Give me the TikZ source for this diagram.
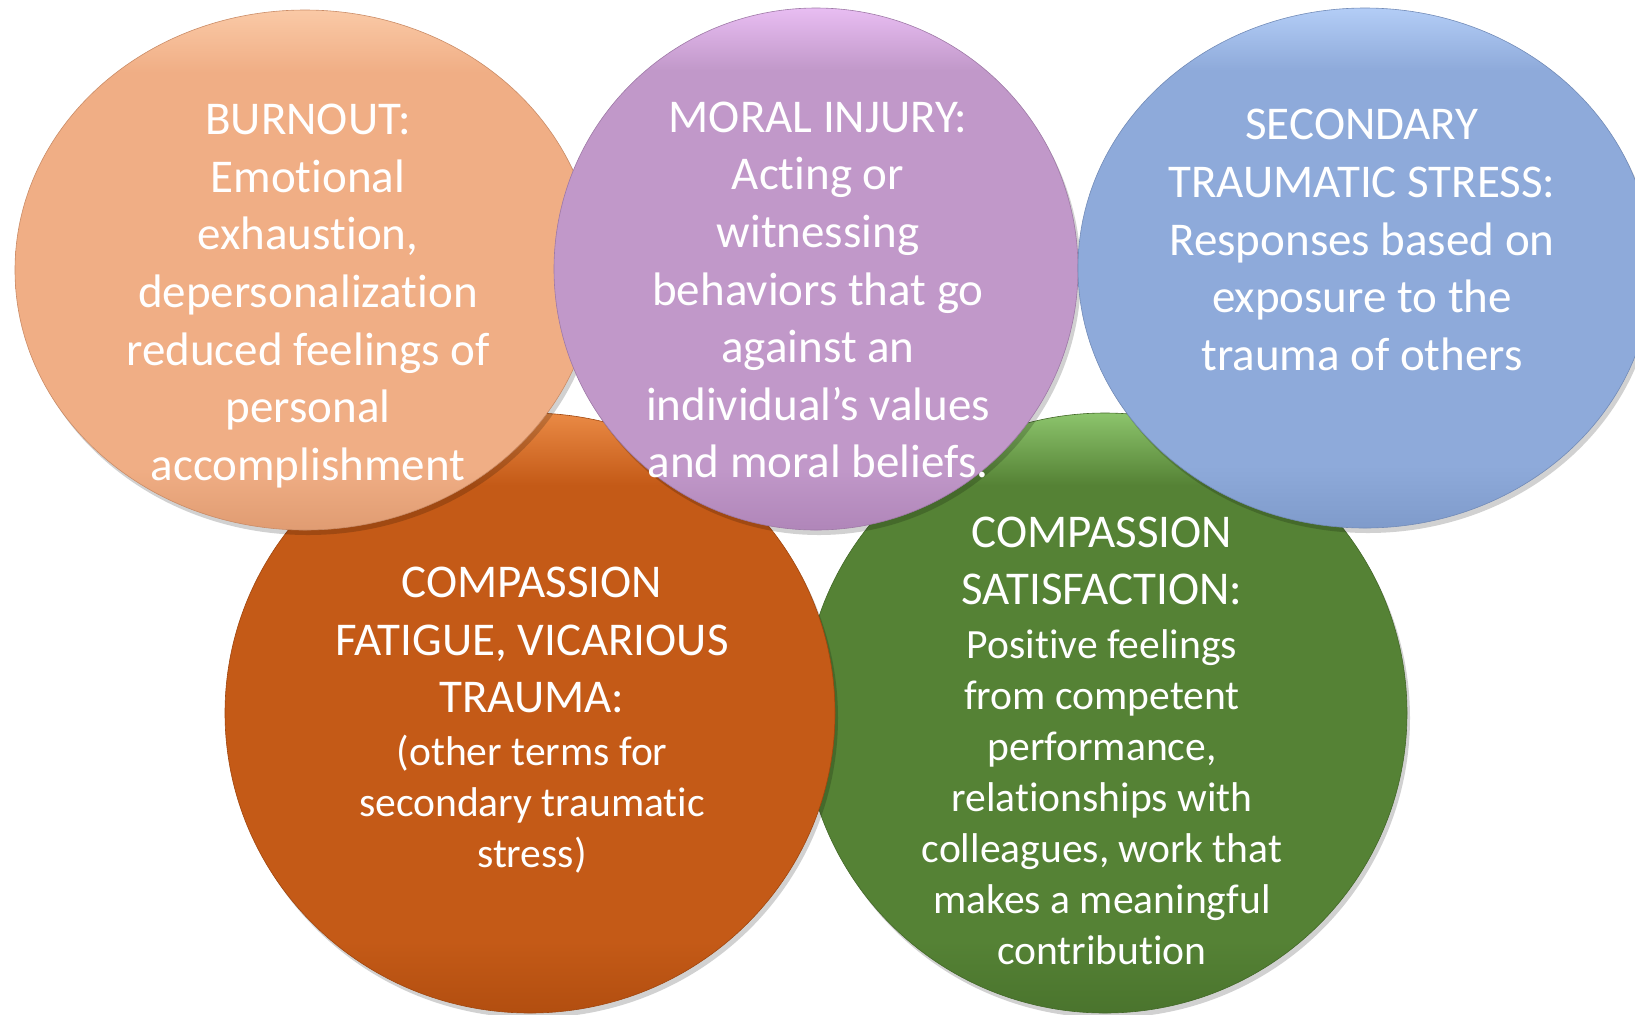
\documentclass[tikz,border=0pt]{standalone}
\usepackage{fontspec}
\setmainfont{Carlito}[Ligatures={NoCommon}]
\usetikzlibrary{shapes.geometric,shadows}
\pgfdeclareverticalshading[bubbot,bubbase,bubtop]{bubshade}{100bp}{%
  color(0bp)=(bubbot); color(25bp)=(bubbot); color(31bp)=(bubbase);
  color(69bp)=(bubbase); color(75bp)=(bubtop); color(100bp)=(bubtop)}
\definecolor{burnB}{HTML}{F0AE85}\definecolor{burnT}{HTML}{FAC9A6}\definecolor{burnD}{HTML}{E09C72}
\definecolor{moralB}{HTML}{C198C9}\definecolor{moralT}{HTML}{E8BDF2}\definecolor{moralD}{HTML}{B086B9}
\definecolor{secB}{HTML}{8EAADA}\definecolor{secT}{HTML}{B3CDF6}\definecolor{secD}{HTML}{7F9BCB}
\definecolor{fatB}{HTML}{C45A17}\definecolor{fatT}{HTML}{EA8A45}\definecolor{fatD}{HTML}{B24E10}
\definecolor{satB}{HTML}{558235}\definecolor{satT}{HTML}{8CC46C}\definecolor{satD}{HTML}{4A742D}
\tikzset{
  bubble/.style n args={3}{ellipse, inner sep=0pt,
    /utils/exec={\colorlet{bubbase}{#1}\colorlet{bubtop}{#2}\colorlet{bubbot}{#3}},
    shading=bubshade, draw=#3!90!black, line width=0.3pt,
    drop shadow={shadow xshift=1.5pt, shadow yshift=-2.5pt, opacity=0.18, fill=black}},
  bigtxt/.style={text=white, align=center, font=\fontsize{23.5}{28.8}\selectfont, inner sep=0pt},
  smalltxt/.style={text=white, align=center, font=\fontsize{20.8}{25.5}\selectfont, inner sep=0pt}
}
\begin{document}
\begin{tikzpicture}[x=0.5pt,y=-0.5pt]
\useasboundingbox (0,0) rectangle (1635,1014);
\clip (0,0) rectangle (1635,1014);
% bottom row
\node[bubble={satB}{satT}{satD}, minimum width=302pt, minimum height=300pt] (sat) at (1105,713) {};
\node[bigtxt] (sattitle) at (1102,561) {COMPASSION\\SATISFACTION:};
\node[smalltxt] (satbody) at (1102,797) {Positive feelings\\from competent\\performance,\\relationships with\\colleagues, work that\\makes a meaningful\\contribution};
\node[bubble={fatB}{fatT}{fatD}, minimum width=305pt, minimum height=300pt] (fat) at (530,713) {};
\node[bigtxt] (fattitle) at (532,640) {COMPASSION\\FATIGUE, VICARIOUS\\TRAUMA:};
\node[smalltxt] (fatbody) at (532,804) {(other terms for\\secondary traumatic\\stress)};
% top row
\node[bubble={burnB}{burnT}{burnD}, minimum width=290pt, minimum height=260pt] (burn) at (305,270) {};
\node[bigtxt] (burntxt) at (308,296) {BURNOUT:\\Emotional\\exhaustion,\\depersonalization\\reduced feelings of\\personal\\accomplishment};
\node[bubble={moralB}{moralT}{moralD}, minimum width=262pt, minimum height=261pt] (moral) at (816,269) {};
\node[bigtxt] (moraltxt) at (818,290) {MORAL INJURY:\\Acting or\\witnessing\\behaviors that go\\against an\\individual’s values\\and moral beliefs.};
\node[bubble={secB}{secT}{secD}, minimum width=287pt, minimum height=260pt] (sec) at (1365,268) {};
\node[bigtxt] (sectxt) at (1362,240) {SECONDARY\\TRAUMATIC STRESS:\\Responses based on\\exposure to the\\trauma of others};
\end{tikzpicture}
\end{document}
